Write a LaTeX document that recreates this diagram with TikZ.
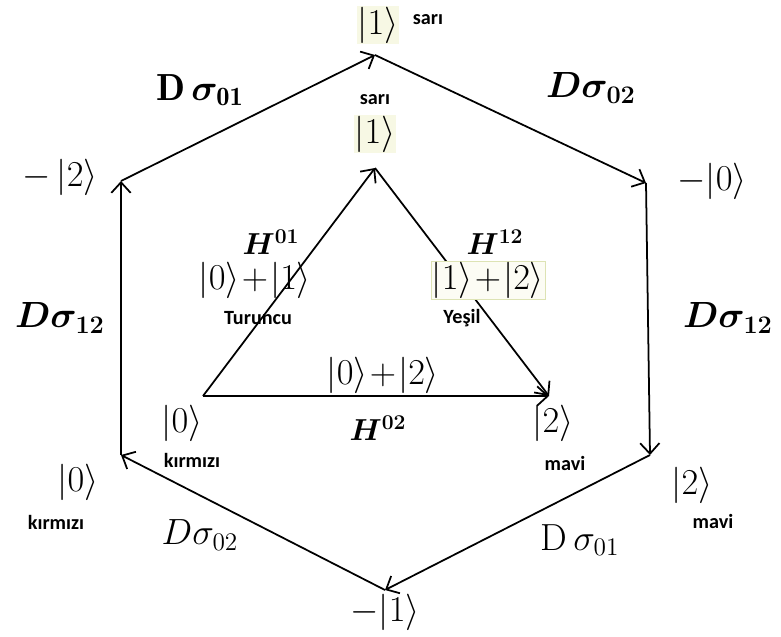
\documentclass[tikz,border=0pt]{standalone}
\usepackage{amsmath,amssymb,bm}
\usepackage{fontspec}
\newfontfamily\lblfont{Carlito}
\usetikzlibrary{arrows.meta}
\definecolor{hl}{HTML}{F7F8E4}
\definecolor{hlline}{HTML}{DDE3B4}

\begin{document}
\begin{tikzpicture}[x=0.02cm,y=-0.02cm,
  ket/.style={font=\fontsize{20}{24}\selectfont,inner sep=0.5pt},
  gate/.style={font=\fontsize{21.5}{25}\selectfont,inner sep=1pt},
  had/.style={font=\fontsize{18}{22}\selectfont,inner sep=1pt},
  renk/.style={font=\fontsize{11.5}{13}\selectfont\lblfont\bfseries,inner sep=1pt},
  arr/.style={-{Straight Barb[length=6pt,width=11pt]},line width=1pt}
]
\useasboundingbox (0,0) rectangle (781,636);
\coordinate (t) at (375,55);
\coordinate (ur) at (646,183);
\coordinate (lr) at (650,455);
\coordinate (b) at (385,590);
\coordinate (ll) at (121,455);
\coordinate (ul) at (121,181);
\coordinate (k0) at (203,396);
\coordinate (k1) at (375,168);
\coordinate (k2) at (549,396);

\draw[arr] (ul) -- (t);
\draw[arr] (t) -- (ur);
\draw[arr] (ur) -- (lr);
\draw[arr] (lr) -- (b);
\draw[arr] (b) -- (ll);
\draw[arr] (ll) -- (ul);
\draw[arr] (k0) -- (k1);
\draw[arr] (k1) -- (k2);
\draw[arr] (k0) -- (k2);

\node[ket,fill=hl] (t1) at (378,25) {$|1\rangle$};
\node[renk] (tsari) at (428,20) {sarı};
\node[gate] (s01a) at (200,90) {$\mathbf{D}\,\boldsymbol{\sigma}_{\mathbf{01}}$};
\node[gate] (s02a) at (591,88) {$\boldsymbol{D\sigma_{02}}$};
\node[ket] (m2) at (60,177) {$-\,|2\rangle$};
\node[ket] (m0) at (712,181) {$-|0\rangle$};
\node[gate] (s12a) at (60,318) {$\boldsymbol{D\sigma_{12}}$};
\node[gate] (s12b) at (728,318) {$\boldsymbol{D\sigma_{12}}$};

\node[renk] (isari) at (375,100) {sarı};
\node[ket,fill=hl] (i1) at (375,134) {$|1\rangle$};
\node[had] (h01) at (271,242) {$\boldsymbol{H^{01}}$};
\node[ket] (s01) at (255,280) {$|0\rangle\!+\!|1\rangle$};
\node[renk] (tur) at (258,318) {Turuncu};
\node[had] (h12) at (495,242) {$\boldsymbol{H^{12}}$};
\node[ket,draw=hlline,fill=hl!40] (s12) at (488,280) {$|1\rangle\!+\!|2\rangle$};
\node[renk] (yes) at (462,318) {Yeşil};
\node[ket] (s02) at (383,375) {$|0\rangle\!+\!|2\rangle$};

\node[ket] (i0) at (182,423) {$|0\rangle$};
\node[renk] (ikir) at (192,460) {kırmızı};
\node[had] (h02) at (378,428) {$\boldsymbol{H^{02}}$};
\node[ket] (i2) at (553,423) {$|2\rangle$};
\node[renk] (imavi) at (565,463) {mavi};

\node[ket] (o0) at (78,482) {$|0\rangle$};
\node[renk] (okir) at (56,522) {kırmızı};
\node[ket] (o2) at (692,485) {$|2\rangle$};
\node[renk] (omavi) at (713,521) {mavi};
\node[gate] (s02b) at (200,535) {$D\sigma_{02}$};
\node[gate] (s01b) at (580,540) {$\mathrm{D}\,\sigma_{01}$};
\node[ket] (m1) at (385,612) {$-|1\rangle$};
\end{tikzpicture}
\end{document}
